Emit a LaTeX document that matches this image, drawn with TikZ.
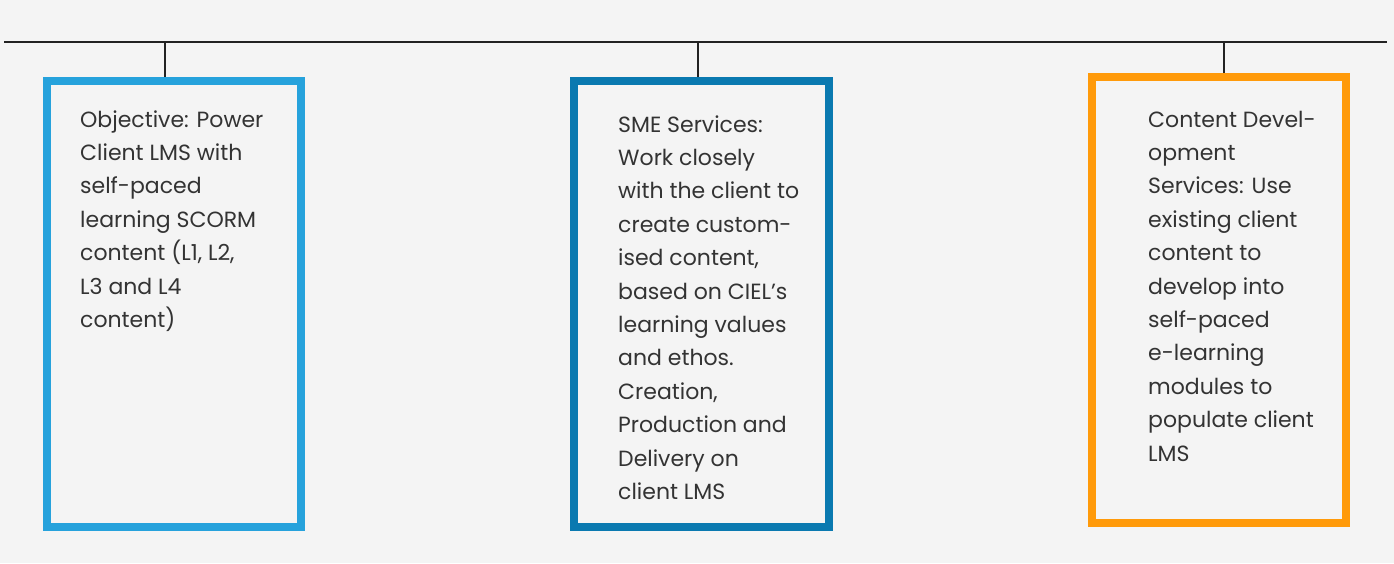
\documentclass[tikz,border=0pt]{standalone}
\usepackage{fontspec}
\setmainfont{Poppins}
\definecolor{bg}{HTML}{F4F4F4}
\definecolor{lightblue}{HTML}{26A2DC}
\definecolor{darkblue}{HTML}{0A79B0}
\definecolor{orangec}{HTML}{FF9A0A}
\definecolor{txt}{HTML}{333333}
\definecolor{linec}{HTML}{222222}
\begin{document}
\begin{tikzpicture}[x=1pt,y=-1pt,
  card/.style={draw=#1, line width=8pt, inner sep=0pt, minimum width=254pt, minimum height=446pt},
  cardtext/.style={anchor=base west, inner sep=0pt, text=txt},
  rule/.style={draw=linec, line width=2.6pt}]
\fill[bg] (0,0) rectangle (1394,563);
\useasboundingbox (0,0) rectangle (1394,563);
\coordinate (L) at (4,42);
\coordinate (R) at (1387,42);
\draw[rule] (L) -- (R);
\node[card=lightblue] (b1) at (174,304) {};
\node[card=darkblue, minimum width=255pt] (b2) at (701.5,304) {};
\node[card=orangec] (b3) at (1219,300) {};
\coordinate (t1) at (165,42);
\coordinate (t2) at (698,42);
\coordinate (t3) at (1224,42);
\draw[rule] (t1) -- (t1 |- b1.north);
\draw[rule] (t2) -- (t2 |- b2.north);
\draw[rule] (t3) -- (t3 |- b3.north);
\newcommand{\cardbody}[1]{\parbox[t]{240pt}{\fontsize{22}{33.4}\selectfont\raggedright #1}}
\node[cardtext] (x1) at (80,127) {\cardbody{Objective: Power\\ Client LMS with\\ self-paced\\ learning SCORM\\ content (L1, L2,\\ L3 and L4\\ content)}};
\node[cardtext] (x2) at (618,132) {\cardbody{SME Services:\\ Work closely\\ with the client to\\ create custom-\\ ised content,\\ based on CIEL’s\\ learning values\\ and ethos.\\ Creation,\\ Production and\\ Delivery on\\ client LMS}};
\node[cardtext] (x3) at (1148,127) {\cardbody{Content Devel-\\ opment\\ Services: Use\\ existing client\\ content to\\ develop into\\ self-paced\\ e-learning\\ modules to\\ populate client\\ LMS}};
\end{tikzpicture}
\end{document}
